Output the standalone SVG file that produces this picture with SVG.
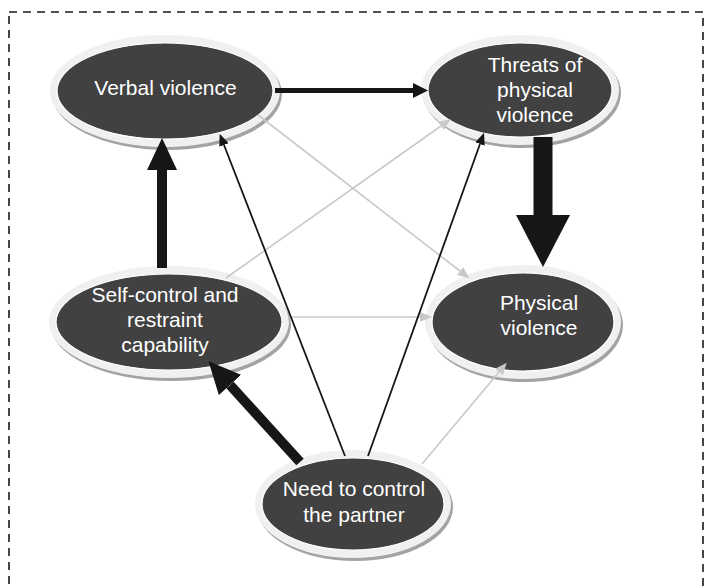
<svg xmlns="http://www.w3.org/2000/svg" width="706" height="586" viewBox="0 0 706 586">
<style>
.frame{fill:none;stroke:#1a1a1a;stroke-width:1.6;stroke-dasharray:8 6}
.shadow{fill:#a3a3a3}
.ring{fill:#f0f0f0}
.core{fill:#414141;stroke:#ffffff;stroke-width:1.2}
.lbl{font-family:"Liberation Sans",Arial,sans-serif;font-size:21px;fill:#ffffff;text-anchor:middle}
.c{fill:none;stroke-linecap:butt}
.k1{stroke:#161616;stroke-width:1.8}
.k5{stroke:#161616;stroke-width:5}
.k10{stroke:#161616;stroke-width:10}
.k19{stroke:#161616;stroke-width:19}
.g{stroke:#c9c9c9;stroke-width:1.6}
</style>
<defs>
<marker id="hThin" markerUnits="userSpaceOnUse" viewBox="0 0 12 10" refX="0" refY="5" markerWidth="12" markerHeight="10" orient="auto"><path d="M0,0 L12,5 L0,10 Z" fill="#161616"/></marker>
<marker id="hGrey" markerUnits="userSpaceOnUse" viewBox="0 0 12 10" refX="0" refY="5" markerWidth="12" markerHeight="10" orient="auto"><path d="M0,0 L12,5 L0,10 Z" fill="#c9c9c9"/></marker>
<marker id="h5" markerUnits="userSpaceOnUse" viewBox="0 0 15 15" refX="0" refY="7.5" markerWidth="15" markerHeight="15" orient="auto"><path d="M0,0 L15,7.5 L0,15 Z" fill="#161616"/></marker>
<marker id="h10" markerUnits="userSpaceOnUse" viewBox="0 0 32 30" refX="0" refY="15" markerWidth="32" markerHeight="30" orient="auto"><path d="M0,0 L32,15 L0,30 Z" fill="#161616"/></marker>
<marker id="h19" markerUnits="userSpaceOnUse" viewBox="0 0 52 54" refX="0" refY="27" markerWidth="52" markerHeight="54" orient="auto"><path d="M0,0 L52,27 L0,54 Z" fill="#161616"/></marker>
</defs>
<rect class="frame" x="9" y="12" width="694" height="600"/>
<g id="verbal">
<ellipse class="shadow" cx="167" cy="94" rx="115" ry="56"/>
<ellipse class="ring" cx="165" cy="91" rx="115" ry="56"/>
<ellipse class="core" cx="165" cy="91" rx="108" ry="48"/>
<text class="lbl" x="165.5" y="95">Verbal violence</text>
</g>
<g id="threats">
<ellipse class="shadow" cx="522" cy="93" rx="99" ry="55"/>
<ellipse class="ring" cx="520" cy="90" rx="99" ry="55"/>
<ellipse class="core" cx="520" cy="90" rx="92" ry="47"/>
<text class="lbl" x="535" y="72">Threats of</text>
<text class="lbl" x="535" y="97">physical</text>
<text class="lbl" x="535" y="122">violence</text>
</g>
<g id="selfcontrol">
<ellipse class="shadow" cx="171" cy="325" rx="120" ry="56"/>
<ellipse class="ring" cx="169" cy="322" rx="120" ry="56"/>
<ellipse class="core" cx="169" cy="322" rx="113" ry="48"/>
<text class="lbl" x="165" y="302">Self-control and</text>
<text class="lbl" x="165" y="327">restraint</text>
<text class="lbl" x="165" y="352">capability</text>
</g>
<g id="physical">
<ellipse class="shadow" cx="525" cy="325" rx="98" ry="57"/>
<ellipse class="ring" cx="523" cy="322" rx="98" ry="57"/>
<ellipse class="core" cx="523" cy="322" rx="91" ry="49"/>
<text class="lbl" x="539" y="310">Physical</text>
<text class="lbl" x="539" y="335">violence</text>
</g>
<g id="need">
<ellipse class="shadow" cx="355" cy="507" rx="98" ry="54"/>
<ellipse class="ring" cx="353" cy="504" rx="98" ry="54"/>
<ellipse class="core" cx="353" cy="504" rx="91" ry="46"/>
<text class="lbl" x="354" y="496">Need to control</text>
<text class="lbl" x="354" y="522">the partner</text>
</g>
<g id="connectors">
<path class="c g" d="M258,115 L460,271" marker-end="url(#hGrey)"/>
<path class="c g" d="M226,278 L441,126" marker-end="url(#hGrey)"/>
<path class="c g" d="M288,317 L420,317" marker-end="url(#hGrey)"/>
<path class="c g" d="M422,464 L499,372" marker-end="url(#hGrey)"/>
<path class="c k1" d="M345,456 L224,145" marker-end="url(#hThin)"/>
<path class="c k1" d="M368,456 L480,144" marker-end="url(#hThin)"/>
<path class="c k5" d="M275,90.5 L413,90.5" marker-end="url(#h5)"/>
<path class="c k19" d="M543,137 L543,215" marker-end="url(#h19)"/>
<path class="c k10" d="M162,268 L162,170" marker-end="url(#h10)"/>
<path class="c k10" d="M300,462 L230,385" marker-end="url(#h10)"/>
</g>
</svg>
